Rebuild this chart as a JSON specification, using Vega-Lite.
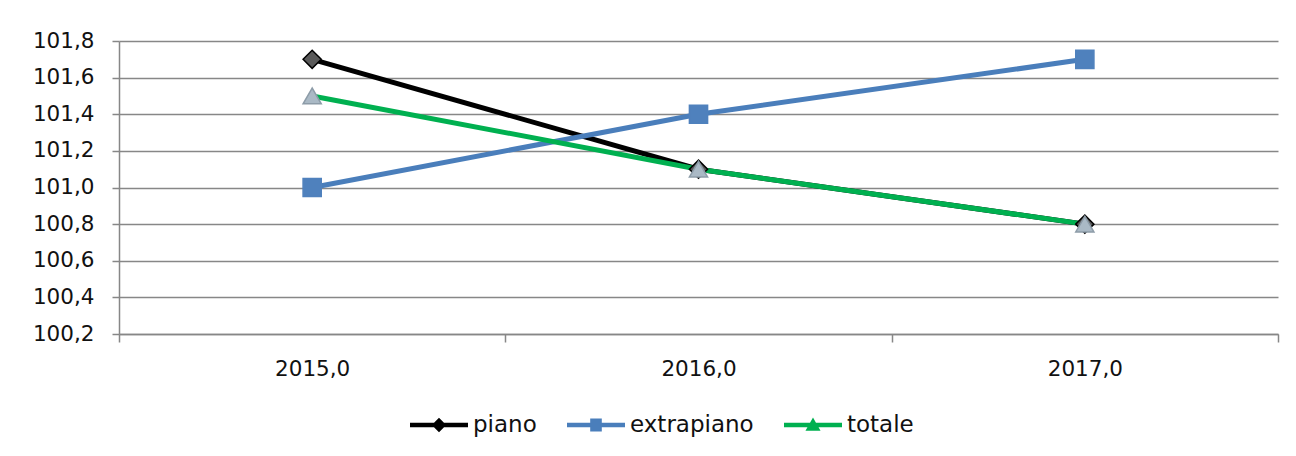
{
  "$schema": "https://vega.github.io/schema/vega-lite/v6.json",
  "width": 1159,
  "height": 293,
  "autosize": {"type": "none"},
  "padding": {"left": 119, "top": 41, "right": 18, "bottom": 122},
  "background": "white",
  "config": {
    "view": {"stroke": null},
    "font": "DejaVu Sans"
  },
  "data": {
    "values": [
      {"serie": "piano", "anno": "2015", "valore": 101.7},
      {"serie": "piano", "anno": "2016", "valore": 101.1},
      {"serie": "piano", "anno": "2017", "valore": 100.8},
      {"serie": "extrapiano", "anno": "2015", "valore": 101.0},
      {"serie": "extrapiano", "anno": "2016", "valore": 101.4},
      {"serie": "extrapiano", "anno": "2017", "valore": 101.7},
      {"serie": "totale", "anno": "2015", "valore": 101.5},
      {"serie": "totale", "anno": "2016", "valore": 101.1},
      {"serie": "totale", "anno": "2017", "valore": 100.8}
    ]
  },
  "encoding": {
    "x": {
      "field": "anno",
      "type": "ordinal",
      "bandPosition": 0.5,
      "scale": {"type": "band", "paddingInner": 0, "paddingOuter": 0},
      "axis": {
        "title": null,
        "labelAngle": 0,
        "labelExpr": "datum.label ? datum.label + ',0' : ''",
        "labelFont": "DejaVu Sans",
        "labelFontSize": 21.5,
        "labelColor": "#111111",
        "labelPadding": 16,
        "tickBand": "extent",
        "tickSize": 8,
        "tickColor": "#878787",
        "tickWidth": 1.5,
        "domainColor": "#878787",
        "domainWidth": 1.5,
        "grid": false
      }
    },
    "y": {
      "field": "valore",
      "type": "quantitative",
      "scale": {"domain": [100.2, 101.8], "nice": false, "zero": false},
      "axis": {
        "title": null,
        "values": [100.2, 100.4, 100.6, 100.8, 101.0, 101.2, 101.4, 101.6, 101.8],
        "labelExpr": "replace(format(datum.value, '.1f'), '.', ',')",
        "labelFont": "DejaVu Sans",
        "labelFontSize": 21.5,
        "labelColor": "#111111",
        "labelPadding": 18,
        "tickSize": 7,
        "tickColor": "#878787",
        "tickWidth": 1.5,
        "domainColor": "#878787",
        "domainWidth": 1.5,
        "grid": true,
        "gridColor": "#878787",
        "gridWidth": 1.6
      }
    }
  },
  "layer": [
    {
      "mark": {"type": "line", "strokeWidth": 5},
      "encoding": {
        "color": {
          "field": "serie",
          "type": "nominal",
          "sort": ["piano", "extrapiano", "totale"],
          "scale": {"domain": ["piano", "extrapiano", "totale"], "range": ["#000000", "#4a7ebb", "#00b050"]},
          "legend": {
            "title": null,
            "orient": "none",
            "direction": "horizontal",
            "legendX": 291,
            "legendY": 355,
            "padding": 0,
            "symbolSize": 3364,
            "labelFont": "DejaVu Sans",
            "labelFontSize": 23,
            "labelColor": "#111111",
            "labelOffset": 5,
            "columnPadding": 30,
            "encode": {
              "symbols": {
                "update": {
                  "shape": {"signal": "datum.value === 'piano' ? 'M-1,-0.08L1,-0.08L1,0.08L-1,0.08Z M0,-0.25L0.25,0L0,0.25L-0.25,0Z' : datum.value === 'extrapiano' ? 'M-1,-0.08L1,-0.08L1,0.08L-1,0.08Z M-0.2,-0.22L0.2,-0.22L0.2,0.22L-0.2,0.22Z' : 'M-1,-0.08L1,-0.08L1,0.08L-1,0.08Z M0,-0.26L0.26,0.2L-0.26,0.2Z'"},
                  "fill": {"scale": "color", "field": "value"},
                  "stroke": {"value": "transparent"},
                  "strokeWidth": {"value": 0},
                  "opacity": {"value": 1}
                }
              }
            }
          }
        }
      }
    },
    {
      "mark": {"type": "point", "filled": true, "opacity": 1, "strokeWidth": 1.5, "size": 330},
      "encoding": {
        "shape": {
          "field": "serie",
          "type": "nominal",
          "scale": {"domain": ["totale", "piano", "extrapiano"], "range": ["triangle-up", "diamond", "square"]},
          "legend": null
        },
        "fill": {
          "field": "serie",
          "type": "nominal",
          "scale": {"domain": ["totale", "piano", "extrapiano"], "range": ["#aab9c5", "#5a5a5a", "#4f81bd"]},
          "legend": null
        },
        "stroke": {
          "field": "serie",
          "type": "nominal",
          "scale": {"domain": ["totale", "piano", "extrapiano"], "range": ["#8d9ca8", "#000000", "#4f81bd"]},
          "legend": null
        }
      }
    }
  ]
}
